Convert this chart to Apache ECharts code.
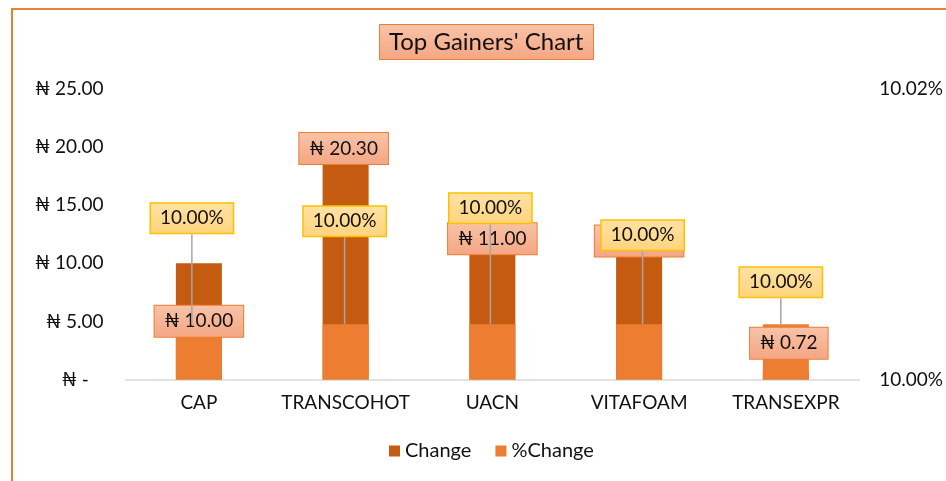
<!DOCTYPE html>
<html>
<head>
<meta charset="utf-8">
<script src="https://cdn.jsdelivr.net/npm/echarts@6/dist/echarts.min.js"></script>
<style>
  html, body { margin: 0; padding: 0; background: #fff; }
  #chart { width: 946px; height: 481px; }
</style>
</head>
<body>
<div id="chart"></div>
<script>
const categories = ['CAP', 'TRANSCOHOT', 'UACN', 'VITAFOAM', 'TRANSEXPR'];
const change = [10.00, 20.30, 11.00, 12.00, 0.72];
const pctChange = [10.0038, 10.0038, 10.0038, 10.0038, 10.0038];
const leftTicks = [0, 25, 5];
const rightTicks = [10.00, 10.02, 0.02];

// manual label offsets (label centre relative to the bar's top-centre), like the dragged Excel labels
const changeLabelOffset = [[0, 58], [-2, 5], [0, -13], [0, 1], [3, -28]];
const pctLabelOffset = [[-7, -106], [-1, -103], [-2, -116], [3.5, -89], [-5, -42]];

const font = 'Lato';
const ink = '#111';
const clear = 'rgba(0,0,0,0)';

const chart = echarts.init(document.getElementById('chart'));

function placeLabel(offsets) {
  return function (params) {
    const r = params.rect;
    const o = offsets[params.dataIndex];
    return {
      x: r.x + r.width / 2 + o[0],
      y: r.y + o[1],
      align: 'center',
      verticalAlign: 'middle',
    };
  };
}

const salmon = () => new echarts.graphic.LinearGradient(0, 0, 0, 1, [
  { offset: 0, color: '#F8C3A8' },
  { offset: 1, color: '#F4A683' },
]);
const gold = () => new echarts.graphic.LinearGradient(0, 0, 0, 1, [
  { offset: 0, color: '#FFE2A3' },
  { offset: 1, color: '#FFD47C' },
]);

chart.setOption({
  backgroundColor: '#fff',
  animation: false,
  title: {
    text: "Top Gainers' Chart",
    left: 379,
    top: 24,
    padding: [4, 10],
    borderColor: '#ED7D31',
    borderWidth: 1,
    backgroundColor: salmon(),
    textStyle: { fontFamily: font, fontSize: 24, lineHeight: 28, fontWeight: 'normal', color: ink },
  },
  legend: {
    left: 384,
    top: 436,
    icon: 'rect',
    itemWidth: 11,
    itemHeight: 11,
    itemGap: 24,
    textStyle: { fontFamily: font, fontSize: 20, color: ink },
    data: ['Change', '%Change'],
  },
  graphic: [{
    type: 'polyline',
    silent: true,
    shape: { points: [[12, 490], [12, 9], [950, 9]] },
    style: { stroke: '#ED7D31', lineWidth: 2, fill: null },
  }],
  grid: { left: 125.5, right: 86.5, top: 89, bottom: 101.5 },
  xAxis: {
    type: 'category',
    data: categories,
    axisLine: { lineStyle: { color: '#D9D9D9', width: 1.5 } },
    axisTick: { length: 6, lineStyle: { color: '#D9D9D9', width: 1.5 } },
    axisLabel: { interval: 0, fontFamily: font, fontSize: 19, color: ink, margin: 14 },
  },
  yAxis: [{
    type: 'value',
    min: leftTicks[0],
    max: leftTicks[1],
    interval: leftTicks[2],
    axisLine: { show: false },
    axisTick: { show: false },
    splitLine: { show: false },
    axisLabel: {
      fontFamily: font, fontSize: 19, color: ink, margin: 22,
      formatter: v => v === 0 ? '\u20A6 -   ' : '\u20A6 ' + v.toFixed(2),
    },
  }, {
    type: 'value',
    min: rightTicks[0],
    max: rightTicks[1],
    interval: rightTicks[2],
    startValue: rightTicks[0],
    axisLine: { show: false },
    axisTick: { show: false },
    splitLine: { show: false },
    axisLabel: {
      fontFamily: font, fontSize: 19, color: ink, margin: 20,
      formatter: v => v.toFixed(2) + '%',
    },
  }],
  series: [{
    name: 'Change',
    type: 'bar',
    yAxisIndex: 0,
    z: 2,
    data: change,
    barWidth: 46,
    barGap: '-100%',
    itemStyle: { color: '#C55A11' },
  }, {
    name: '%Change',
    type: 'bar',
    yAxisIndex: 1,
    z: 3,
    data: pctChange,
    barWidth: 46,
    barGap: '-100%',
    itemStyle: { color: '#ED7D31' },
  }, {
    // label carrier for Change (drawn above the %Change bars)
    name: 'changeLabels',
    type: 'bar',
    yAxisIndex: 0,
    z: 4,
    silent: true,
    data: change,
    barWidth: 46,
    barGap: '-100%',
    itemStyle: { color: clear },
    label: {
      show: true,
      position: 'top',
      formatter: p => '\u20A6 ' + p.value.toFixed(2),
      fontFamily: font, fontSize: 19, lineHeight: 21, color: ink,
      padding: [5, 10],
      borderColor: '#ED7D31',
      borderWidth: 1,
      backgroundColor: salmon(),
    },
    labelLayout: placeLabel(changeLabelOffset),
  }, {
    // label carrier for %Change with leader lines
    name: 'pctLabels',
    type: 'bar',
    yAxisIndex: 1,
    z: 5,
    silent: true,
    data: pctChange,
    barWidth: 46,
    barGap: '-100%',
    itemStyle: { color: clear },
    label: {
      show: true,
      position: 'top',
      formatter: p => p.value.toFixed(2) + '%',
      fontFamily: font, fontSize: 19, lineHeight: 21, color: ink,
      padding: [4, 9],
      borderColor: '#FFC000',
      borderWidth: 1.5,
      backgroundColor: gold(),
    },
    labelLine: { show: true, lineStyle: { color: '#A6A6A6', width: 1.5 } },
    labelLayout: placeLabel(pctLabelOffset),
  }],
});
</script>
</body>
</html>
